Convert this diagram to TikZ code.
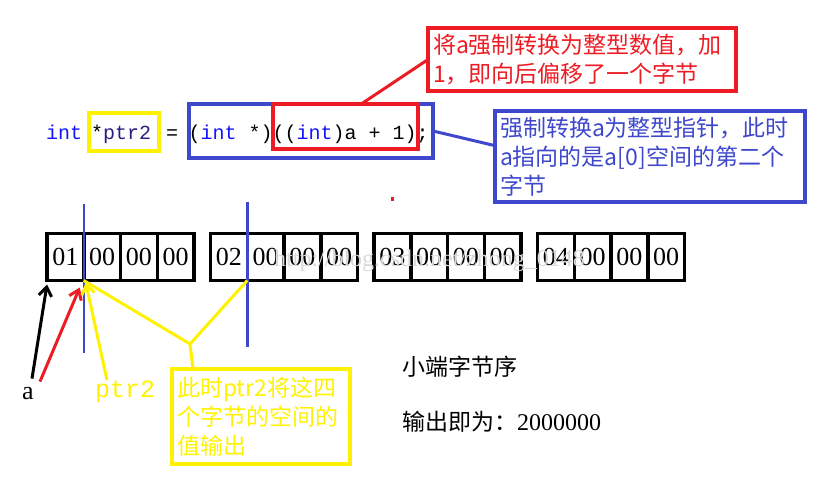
\documentclass[tikz,border=0pt]{standalone}
\usepackage{fontspec}
\setmainfont{Liberation Serif}
\setmonofont{Liberation Mono}
\newfontfamily\cjk{Noto Sans CJK SC}
\usetikzlibrary{arrows.meta}
\definecolor{paintred}{RGB}{237,28,36}
\definecolor{paintblue}{RGB}{63,72,204}
\definecolor{paintyellow}{RGB}{255,242,0}
\definecolor{kwblue}{RGB}{20,20,255}
\definecolor{idnavy}{RGB}{40,30,130}
\newcommand{\kw}[1]{\textcolor{kwblue}{#1}}
\begin{document}
\begin{tikzpicture}[x=1pt,y=-1pt,
  code/.style={font=\ttfamily\fontsize{20}{20}\selectfont, inner sep=0pt, anchor=base west},
  cell/.style={draw, line width=3.5pt, minimum width=36.75pt, minimum height=47pt,
    inner sep=0pt, outer sep=0pt, font=\fontsize{26}{26}\selectfont},
  frame/.style={draw=#1, line width=3.5pt, inner sep=0pt, outer sep=0pt},
  note/.style={draw=#1, text=#1, line width=3.5pt, outer sep=0pt, inner sep=5pt,
    align=left, font=\cjk\fontsize{23}{29}\selectfont},
  pointer/.style={line width=3pt, -{Straight Barb[length=9pt,width=13pt,line width=3pt]}},
  yline/.style={draw=paintyellow, line width=3pt}]
\useasboundingbox (0,0) rectangle (835,497);
% code line
\node[code] (tint) at (46,140) {\kw{int}};
\node[code] (tptr) at (91,140) {*\textcolor{idnavy}{ptr2}};
\node[code] (teq) at (166,140) {=};
\node[code] (tcast) at (188.5,140) {(\kw{int} *)((\kw{int})a + 1);};
\node[frame=paintyellow, minimum width=70pt, minimum height=38pt] (ptrbox) at (124,132) {};
\node[frame=paintblue, minimum width=244pt, minimum height=54pt] (castbox) at (311,131) {};
\node[frame=paintred, minimum width=145pt, minimum height=45pt] (addbox) at (345.5,126.5) {};
% notes
\node[note=paintred, text width=298pt, minimum height=63pt] (rednote) at (582,59.5)
  {将a强制转换为整型数值，加\\1，即向后偏移了一个字节};
\node[note=paintblue, text width=300pt, minimum height=91pt] (bluenote) at (650,156.5)
  {强制转换a为整型指针，此时\\a指向的是a[0]空间的第二个\\字节};
\draw[paintred, line width=3pt] (addbox.55) -- (rednote.west);
\draw[paintblue, line width=3pt] (castbox.east) -- (bluenote.176);
\fill[paintred] (390.5,197.5) rectangle (394,201);
% bytes
\foreach \g in {0,...,3}{
  \foreach \c in {0,...,3}{
    \pgfmathtruncatemacro{\v}{\c==0 ? \g+1 : 0}
    \node[cell] (b\g\c) at (47+163.5*\g+36.75*\c+18.375,257) {0\v};
  }
}
\node[font=\fontsize{24}{24}\selectfont, text=gray!30, inner sep=0pt, anchor=base west]
  (mark) at (274,266) {http://blog.csdn.net/zhong\_0148};
\draw[paintblue, line width=2.5pt] ([yshift=29]b00.north east) -- ([yshift=-72]b00.south east);
\draw[paintblue, line width=2.5pt] ([yshift=31]b10.north east) -- ([yshift=-66]b10.south east);
% labels
\node[inner sep=0pt, anchor=base west, font=\fontsize{26}{26}\selectfont] (alabel) at (22,399) {a};
\node[code, text=paintyellow, font=\ttfamily\fontsize{25}{25}\selectfont] (ptrlabel) at (95,397) {ptr2};
\node[note=paintyellow, text width=168pt, minimum height=95pt] (ynote) at (261,416.5)
  {此时ptr2将这四\\个字节的空间的\\值输出};
\draw[pointer, black] ([xshift=4,yshift=8]alabel.north) -- ([yshift=-4]b00.south west);
\draw[pointer, paintred] ([xshift=12,yshift=5]alabel.north) -- ([xshift=-4,yshift=-7]b00.south east);
\draw[pointer, paintyellow] ([xshift=12,yshift=0]ptrlabel.north west) -- ([xshift=2,yshift=-2]b00.south east);
\coordinate (ymeet) at (190,344);
\draw[yline] (b00.south east) -- (ymeet) -- (b10.south east);
\draw[yline] (ymeet) -- ([xshift=21]ynote.north west);
% byte order
\node[anchor=west, inner sep=0pt, font=\cjk\fontsize{23}{23}\selectfont] (order) at (402,367) {小端字节序};
\node[anchor=west, inner sep=0pt, font=\cjk\fontsize{23}{23}\selectfont] (output) at (402,422) {输出即为：{\rmfamily\fontsize{24}{24}\selectfont 2000000}};
\end{tikzpicture}
\end{document}
